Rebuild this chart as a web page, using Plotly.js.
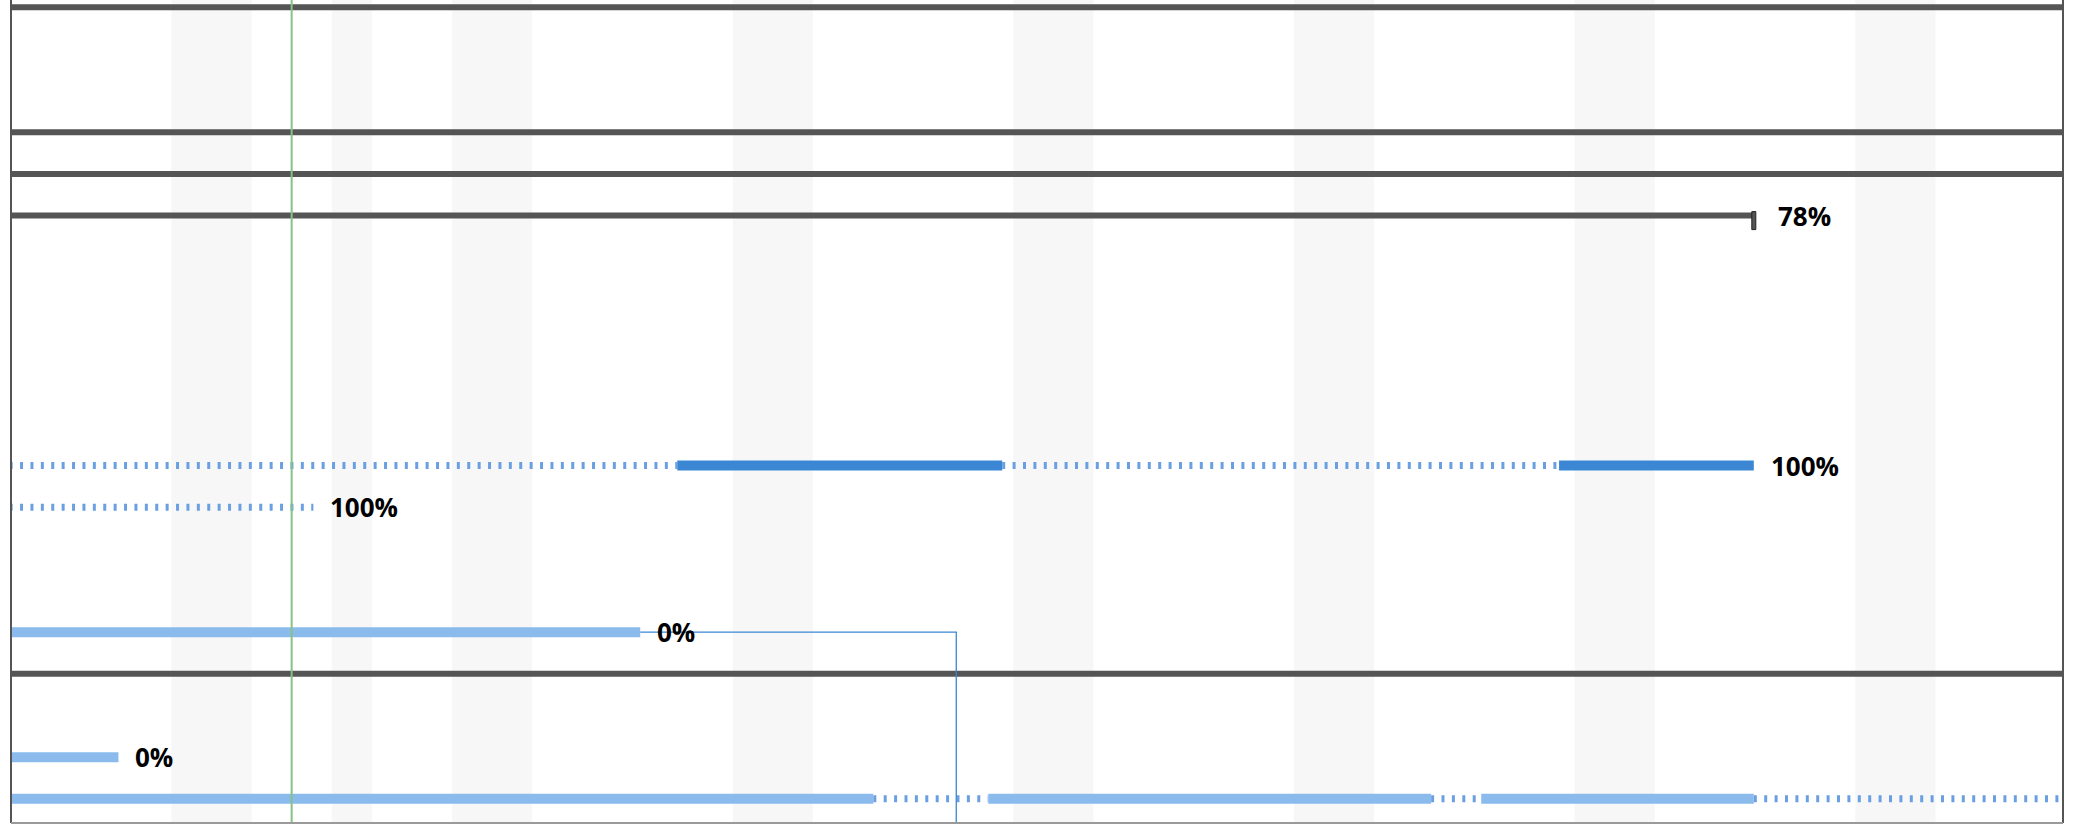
<!DOCTYPE html>
<html><head><meta charset="utf-8">
<script src="https://cdn.plot.ly/plotly-3.0.1.min.js"></script>
<style>html,body{margin:0;padding:0;background:#fff;overflow:hidden;}#chart{width:2074px;height:824px;}</style>
</head><body><div id="chart"></div>
<script>
// ---------- data ----------
// summary (grey) bars
const summaryRow   = [0, 3, 4, 5, 16];
const summaryStart = ['2029-06-01', '2029-06-01', '2029-06-01', '2029-06-01', '2029-06-01'];
const summaryEnd   = ['2029-09-30', '2029-09-30', '2029-09-30', '2029-08-08 11:15', '2029-09-30'];

// task segments: done = completed part, todo = remaining part, split = gap in a split task
const segRow   = [11, 11, 11, 11, 12, 15, 18, 19, 19, 19, 19, 19, 19];
const segStart = ['2029-06-20', '2029-07-12 14:50', '2029-07-20 17:20', '2029-08-03 14:40',
                  '2029-06-20', '2029-06-01', '2029-06-01',
                  '2029-06-01', '2029-07-17 12:10', '2029-07-20 09:00', '2029-07-31 10:05', '2029-08-01 16:05', '2029-08-08 11:15'];
const segEnd   = ['2029-07-12 14:50', '2029-07-20 17:20', '2029-08-03 14:40', '2029-08-08 11:15',
                  '2029-07-03 13:00', '2029-07-11 16:40', '2029-06-28 16:20',
                  '2029-07-17 12:10', '2029-07-20 09:00', '2029-07-31 10:05', '2029-08-01 16:05', '2029-08-08 11:15', '2029-09-30'];
const segKind  = ['split', 'done', 'split', 'done',
                  'split', 'todo', 'todo',
                  'todo', 'split', 'todo', 'split', 'todo', 'split'];

// progress labels
const labelRow  = [5, 11, 12, 15, 18];
const labelAt   = ['2029-08-08 11:15', '2029-08-08 11:15', '2029-07-03 13:00', '2029-07-11 16:40', '2029-06-28 16:20'];
const labelText = ['78%', '100%', '100%', '0%', '0%'];

// baseline end marker
const baselineRow = [5];
const baselineAt  = ['2029-08-08 11:15'];

// dependency link (from row 15 end to a task below the view)
const linkFromRow = [15];
const linkFromAt  = ['2029-07-11 16:40'];
const linkToRow   = [21];
const linkToAt    = ['2029-07-19 13:50'];

// calendar
const today = '2029-07-03';
const shadeStart = ['2029-06-30', '2029-07-04', '2029-07-07', '2029-07-14', '2029-07-21', '2029-07-28', '2029-08-04', '2029-08-11'];
const shadeEnd   = ['2029-07-02', '2029-07-05', '2029-07-09', '2029-07-16', '2029-07-23', '2029-07-30', '2029-08-06', '2029-08-13'];

const viewStart = '2029-06-26 00:00';
const viewEnd   = '2029-08-16 04:20';

// ---------- styles ----------
const STYLE = {
  summary: {color: '#555555', width: 6},
  done:    {color: '#3b87d4', width: 10},
  todo:    {color: '#8abbec', width: 10},
  split:   {color: '#6a a0e2'.replace(' ', ''), width: 7, dash: '3px,7.4px'},
  link:    {color: '#3b87d4', width: 1.3}
};

// ---------- build ----------
function lineTrace(xs, ys, style) {
  return {type: 'scatter', mode: 'lines', x: xs, y: ys, hoverinfo: 'skip',
          line: Object.assign({}, style), showlegend: false, connectgaps: false};
}
const traces = [];
{
  const xs = [], ys = [];
  summaryRow.forEach((r, i) => { xs.push(summaryStart[i], summaryEnd[i], null); ys.push(r, r, null); });
  traces.push(lineTrace(xs, ys, STYLE.summary));
}
['split', 'todo', 'done'].forEach(kind => {
  const xs = [], ys = [];
  segRow.forEach((r, i) => {
    if (segKind[i] === kind) { xs.push(segStart[i], segEnd[i], null); ys.push(r, r, null); }
  });
  traces.push(lineTrace(xs, ys, STYLE[kind]));
});
{
  const xs = [], ys = [];
  linkFromRow.forEach((r, i) => {
    xs.push(linkFromAt[i], linkToAt[i], linkToAt[i], null);
    ys.push(r, r, linkToRow[i], null);
  });
  traces.push(lineTrace(xs, ys, STYLE.link));
}

const shapes = [];
shadeStart.forEach((s, i) => shapes.push({type: 'rect', xref: 'x', yref: 'paper', x0: s, x1: shadeEnd[i], y0: 0, y1: 1,
  fillcolor: '#f7f7f7', line: {width: 0}, layer: 'below'}));
shapes.push({type: 'line', xref: 'x', yref: 'paper', x0: today, x1: today, y0: 0, y1: 1,
  line: {color: '#86c186', width: 2}, layer: 'above'});
baselineRow.forEach((r, i) => shapes.push({type: 'rect', xref: 'x', yref: 'y',
  xsizemode: 'pixel', xanchor: baselineAt[i], x0: -2, x1: 2,
  ysizemode: 'pixel', yanchor: r, y0: -14, y1: 4,
  fillcolor: '#555555', line: {color: '#222222', width: 1}, layer: 'above'}));
// frame
shapes.push({type: 'line', xref: 'paper', yref: 'paper', x0: 0, x1: 0, y0: 0, y1: 1, line: {color: '#555555', width: 2}});
shapes.push({type: 'line', xref: 'paper', yref: 'paper', x0: 1, x1: 1, y0: 0, y1: 1, line: {color: '#555555', width: 2}});
shapes.push({type: 'line', xref: 'paper', yref: 'paper', x0: 0, x1: 1, y0: 0, y1: 0, line: {color: '#9a9a9a', width: 2}});

const annotations = labelRow.map((r, i) => ({
  x: labelAt[i], y: r, xref: 'x', yref: 'y', text: labelText[i], showarrow: false,
  xanchor: 'left', yanchor: 'middle', xshift: baselineRow.includes(r) ? 22 : 15, yshift: 0,
  font: {family: 'Open Sans, Noto Sans, sans-serif', size: 26, color: '#000000', weight: 'bold'}
}));

const layout = {
  width: 2074, height: 824,
  margin: {l: 11, r: 11, t: 0, b: 1, pad: 0},
  paper_bgcolor: '#ffffff', plot_bgcolor: '#ffffff',
  showlegend: false,
  xaxis: {type: 'date', range: [viewStart, viewEnd], showgrid: false, zeroline: false,
          showticklabels: false, ticks: '', showline: false, fixedrange: true},
  yaxis: {range: [19.58, -0.175], showgrid: false, zeroline: false,
          showticklabels: false, ticks: '', showline: false, fixedrange: true},
  shapes: shapes,
  annotations: annotations
};

Plotly.newPlot('chart', traces, layout, {displayModeBar: false, staticPlot: true});
</script>
</body></html>
